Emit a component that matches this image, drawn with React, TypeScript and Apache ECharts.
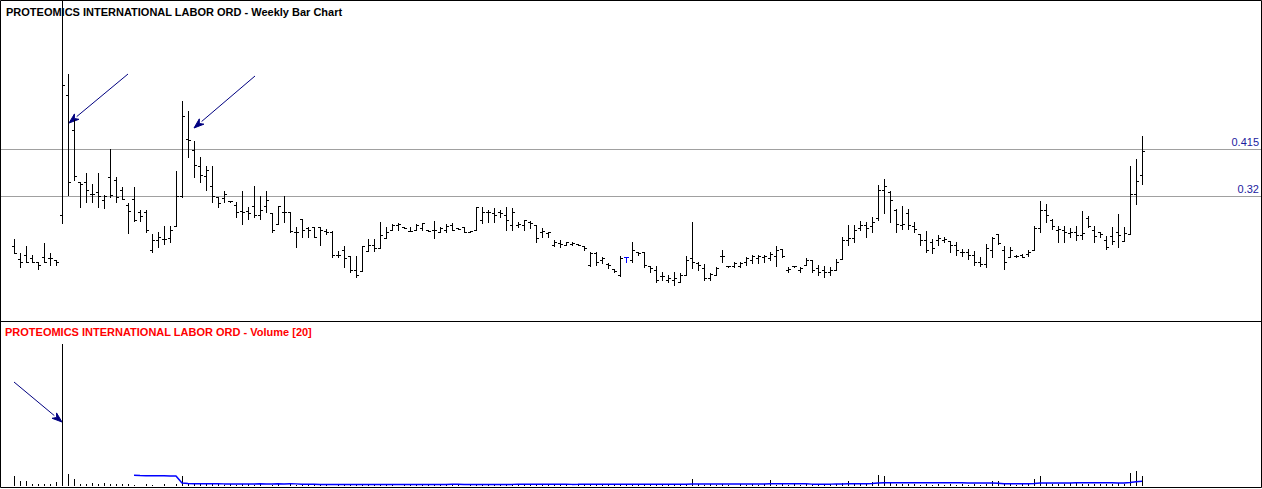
import React, { useEffect, useRef } from 'react';
import * as echarts from 'echarts';

// ---------- Data ----------
const priceTitle = 'PROTEOMICS INTERNATIONAL LABOR ORD - Weekly Bar Chart';
const volumeTitle = 'PROTEOMICS INTERNATIONAL LABOR ORD - Volume [20]';
const levels = [0.415, 0.32];
const highlightedBars = [102];
const MA_PERIOD = 20;

const opens = [
  0.220, 0.194, 0.202, 0.196, 0.188, 0.198, 0.196, 0.192, 0.282, 0.525,
  0.455, 0.349, 0.349, 0.325, 0.329, 0.312, 0.359, 0.353, 0.333, 0.302,
  0.315, 0.288, 0.288, 0.212, 0.232, 0.234, 0.236, 0.260, 0.321, 0.437,
  0.413, 0.381, 0.361, 0.341, 0.319, 0.317, 0.310, 0.302, 0.290, 0.290,
  0.300, 0.282, 0.300, 0.286, 0.264, 0.288, 0.288, 0.248, 0.274, 0.256,
  0.258, 0.258, 0.250, 0.248, 0.202, 0.212, 0.200, 0.172, 0.170, 0.210,
  0.222, 0.216, 0.236, 0.252, 0.262, 0.258, 0.250, 0.252, 0.256, 0.252,
  0.252, 0.248, 0.252, 0.262, 0.256, 0.258, 0.248, 0.252, 0.272, 0.288,
  0.286, 0.288, 0.282, 0.262, 0.262, 0.262, 0.268, 0.262, 0.248, 0.246,
  0.222, 0.226, 0.222, 0.224, 0.224, 0.220, 0.182, 0.206, 0.192, 0.184,
  0.174, 0.162, 0.198, 0.192, 0.208, 0.208, 0.180, 0.172, 0.160, 0.152,
  0.152, 0.148, 0.162, 0.196, 0.186, 0.176, 0.156, 0.162, 0.200, 0.180,
  0.180, 0.180, 0.188, 0.192, 0.196, 0.198, 0.196, 0.200, 0.214, 0.172,
  0.180, 0.172, 0.182, 0.192, 0.176, 0.172, 0.168, 0.172, 0.194, 0.232,
  0.236, 0.256, 0.262, 0.260, 0.276, 0.333, 0.329, 0.292, 0.262, 0.286,
  0.260, 0.244, 0.232, 0.228, 0.232, 0.232, 0.230, 0.222, 0.208, 0.208,
  0.202, 0.188, 0.184, 0.212, 0.244, 0.212, 0.198, 0.200, 0.202, 0.204,
  0.212, 0.256, 0.292, 0.272, 0.252, 0.252, 0.246, 0.248, 0.242, 0.276,
  0.252, 0.248, 0.232, 0.240, 0.248, 0.230, 0.244, 0.325, 0.363,
];

const highs = [
  0.234, 0.206, 0.220, 0.202, 0.188, 0.226, 0.206, 0.192, 0.800, 0.567,
  0.475, 0.349, 0.367, 0.345, 0.367, 0.323, 0.415, 0.359, 0.339, 0.306,
  0.339, 0.292, 0.292, 0.244, 0.248, 0.260, 0.260, 0.371, 0.513, 0.493,
  0.433, 0.399, 0.381, 0.381, 0.319, 0.331, 0.310, 0.308, 0.331, 0.298,
  0.341, 0.321, 0.331, 0.286, 0.300, 0.321, 0.288, 0.258, 0.274, 0.258,
  0.258, 0.258, 0.254, 0.250, 0.210, 0.220, 0.200, 0.200, 0.220, 0.234,
  0.234, 0.268, 0.258, 0.264, 0.266, 0.258, 0.258, 0.264, 0.266, 0.252,
  0.270, 0.258, 0.264, 0.266, 0.256, 0.258, 0.250, 0.298, 0.298, 0.292,
  0.296, 0.292, 0.298, 0.296, 0.268, 0.272, 0.270, 0.262, 0.256, 0.248,
  0.232, 0.232, 0.228, 0.228, 0.224, 0.220, 0.208, 0.208, 0.198, 0.186,
  0.174, 0.200, 0.198, 0.228, 0.208, 0.208, 0.180, 0.180, 0.168, 0.162,
  0.168, 0.166, 0.200, 0.268, 0.188, 0.184, 0.166, 0.178, 0.212, 0.180,
  0.188, 0.188, 0.198, 0.202, 0.202, 0.202, 0.208, 0.220, 0.214, 0.178,
  0.180, 0.178, 0.196, 0.192, 0.182, 0.180, 0.178, 0.194, 0.238, 0.262,
  0.262, 0.270, 0.268, 0.278, 0.343, 0.355, 0.331, 0.294, 0.300, 0.294,
  0.268, 0.244, 0.250, 0.234, 0.242, 0.238, 0.230, 0.228, 0.214, 0.214,
  0.210, 0.198, 0.224, 0.238, 0.244, 0.220, 0.218, 0.202, 0.204, 0.212,
  0.260, 0.310, 0.304, 0.274, 0.260, 0.260, 0.256, 0.260, 0.290, 0.280,
  0.260, 0.248, 0.240, 0.258, 0.284, 0.258, 0.381, 0.395, 0.443,
];

const lows = [
  0.206, 0.178, 0.188, 0.188, 0.174, 0.188, 0.182, 0.182, 0.266, 0.323,
  0.353, 0.298, 0.308, 0.308, 0.298, 0.296, 0.319, 0.308, 0.315, 0.246,
  0.270, 0.270, 0.248, 0.208, 0.218, 0.224, 0.228, 0.260, 0.319, 0.399,
  0.359, 0.349, 0.333, 0.308, 0.298, 0.308, 0.308, 0.278, 0.264, 0.274,
  0.278, 0.274, 0.288, 0.248, 0.264, 0.268, 0.248, 0.218, 0.238, 0.238,
  0.238, 0.222, 0.244, 0.198, 0.198, 0.178, 0.168, 0.158, 0.170, 0.210,
  0.210, 0.216, 0.236, 0.252, 0.252, 0.256, 0.250, 0.252, 0.252, 0.250,
  0.236, 0.248, 0.248, 0.252, 0.254, 0.248, 0.248, 0.252, 0.266, 0.268,
  0.268, 0.278, 0.252, 0.252, 0.258, 0.252, 0.256, 0.228, 0.238, 0.238,
  0.220, 0.218, 0.222, 0.222, 0.222, 0.212, 0.180, 0.182, 0.186, 0.176,
  0.168, 0.160, 0.188, 0.188, 0.202, 0.178, 0.168, 0.148, 0.152, 0.148,
  0.142, 0.148, 0.162, 0.176, 0.172, 0.152, 0.152, 0.162, 0.188, 0.178,
  0.178, 0.178, 0.182, 0.186, 0.186, 0.188, 0.192, 0.180, 0.198, 0.168,
  0.178, 0.168, 0.182, 0.168, 0.162, 0.158, 0.162, 0.172, 0.194, 0.222,
  0.228, 0.252, 0.238, 0.248, 0.272, 0.286, 0.268, 0.248, 0.254, 0.254,
  0.248, 0.222, 0.208, 0.206, 0.222, 0.228, 0.208, 0.202, 0.200, 0.194,
  0.182, 0.180, 0.178, 0.198, 0.224, 0.174, 0.198, 0.198, 0.198, 0.200,
  0.212, 0.248, 0.268, 0.254, 0.228, 0.228, 0.238, 0.232, 0.234, 0.258,
  0.228, 0.238, 0.214, 0.224, 0.218, 0.230, 0.244, 0.304, 0.345,
];

const closes = [
  0.206, 0.188, 0.188, 0.188, 0.182, 0.188, 0.196, 0.188, 0.545, 0.349,
  0.361, 0.345, 0.333, 0.325, 0.321, 0.321, 0.323, 0.319, 0.315, 0.290,
  0.272, 0.280, 0.252, 0.232, 0.238, 0.234, 0.252, 0.321, 0.483, 0.435,
  0.383, 0.363, 0.373, 0.321, 0.306, 0.325, 0.310, 0.288, 0.288, 0.286,
  0.282, 0.292, 0.312, 0.252, 0.300, 0.288, 0.250, 0.248, 0.252, 0.252,
  0.238, 0.252, 0.248, 0.202, 0.202, 0.196, 0.172, 0.162, 0.220, 0.222,
  0.216, 0.242, 0.248, 0.262, 0.264, 0.256, 0.250, 0.262, 0.266, 0.250,
  0.252, 0.256, 0.260, 0.252, 0.254, 0.248, 0.250, 0.298, 0.288, 0.288,
  0.282, 0.286, 0.272, 0.288, 0.264, 0.272, 0.266, 0.236, 0.250, 0.248,
  0.228, 0.224, 0.228, 0.226, 0.222, 0.216, 0.206, 0.188, 0.196, 0.182,
  0.170, 0.196, 0.198, 0.212, 0.206, 0.182, 0.176, 0.152, 0.160, 0.156,
  0.156, 0.162, 0.192, 0.188, 0.182, 0.156, 0.164, 0.176, 0.200, 0.180,
  0.186, 0.186, 0.196, 0.200, 0.200, 0.200, 0.204, 0.212, 0.200, 0.174,
  0.180, 0.176, 0.192, 0.172, 0.168, 0.168, 0.172, 0.188, 0.232, 0.236,
  0.252, 0.262, 0.256, 0.268, 0.333, 0.341, 0.312, 0.264, 0.264, 0.262,
  0.254, 0.232, 0.212, 0.216, 0.236, 0.234, 0.222, 0.212, 0.208, 0.202,
  0.188, 0.184, 0.216, 0.236, 0.226, 0.188, 0.212, 0.200, 0.198, 0.208,
  0.256, 0.292, 0.282, 0.260, 0.254, 0.248, 0.248, 0.242, 0.246, 0.260,
  0.240, 0.244, 0.218, 0.230, 0.242, 0.246, 0.325, 0.351, 0.411,
];

// volume in thousands of shares
const volumes = [
  100, 55, 55, 25, 25, 20, 20, 45, 1500, 120,
  70, 25, 20, 30, 20, 30, 20, 25, 20, 20,
  15, 0, 20, 15, 0, 20, 0, 25, 105, 25,
  20, 20, 20, 20, 20, 15, 20, 15, 20, 20,
  15, 20, 0, 15, 20, 0, 20, 15, 20, 15,
  20, 15, 20, 0, 15, 20, 20, 15, 20, 15,
  20, 15, 20, 15, 0, 20, 15, 20, 15, 20,
  15, 20, 15, 20, 15, 0, 20, 25, 20, 15,
  20, 15, 20, 15, 20, 15, 20, 20, 15, 20,
  15, 20, 15, 0, 20, 15, 20, 15, 20, 15,
  20, 15, 20, 15, 20, 15, 20, 15, 20, 15,
  20, 15, 20, 70, 20, 15, 20, 15, 20, 15,
  0, 20, 15, 20, 15, 20, 60, 15, 20, 15,
  20, 15, 20, 15, 20, 15, 20, 25, 30, 50,
  25, 20, 20, 45, 110, 100, 30, 25, 20, 25,
  20, 15, 20, 15, 20, 15, 20, 15, 20, 15,
  20, 15, 20, 55, 55, 25, 20, 15, 20, 20,
  75, 100, 30, 25, 25, 20, 30, 35, 25, 20,
  20, 25, 20, 25, 30, 20, 135, 150, 105,
];

// ---------- helpers ----------
function arrow(x1: number, y1: number, x2: number, y2: number, color: string) {
  const dx = x2 - x1;
  const dy = y2 - y1;
  const len = Math.sqrt(dx * dx + dy * dy);
  const ux = dx / len;
  const uy = dy / len;
  const px = -uy;
  const py = ux;
  const hl = 10;
  const hw = 3.5;
  const bx = x2 - ux * hl;
  const by = y2 - uy * hl;
  const nx = x2 - ux * (hl - 3);
  const ny = y2 - uy * (hl - 3);
  return [
    { type: 'line', silent: true, shape: { x1, y1, x2: bx, y2: by }, style: { stroke: color, lineWidth: 1 } },
    {
      type: 'polygon',
      silent: true,
      shape: { points: [[x2, y2], [bx + px * hw, by + py * hw], [nx, ny], [bx - px * hw, by - py * hw]] },
      style: { fill: color, stroke: color, lineWidth: 1 },
    },
  ];
}

export default function App() {
  const ref = useRef<HTMLDivElement>(null);

  useEffect(() => {
    const el = ref.current;
    if (!el) return;
    const chart = echarts.init(el, null, { renderer: 'svg' });

    const ohlc = closes.map((c, i) => [i, opens[i], highs[i], lows[i], c]);
    const vol = volumes.map((v, i) => [i, v]);
    const ma: number[][] = [];
    for (let i = MA_PERIOD; i < volumes.length; i++) {
      let s = 0;
      for (let k = i - MA_PERIOD + 1; k <= i; k++) s += volumes[k];
      ma.push([i, s / MA_PERIOD]);
    }

    const W = 1262;
    const xMin = -14 / 6;
    const xMax = (W - 14) / 6;

    const renderBar = (params: any, api: any) => {
      const i = api.value(0);
      const pO = api.coord([i, api.value(1)]);
      const pH = api.coord([i, api.value(2)]);
      const pL = api.coord([i, api.value(3)]);
      const pC = api.coord([i, api.value(4)]);
      const col = Math.round(pH[0]);
      const x = col + 0.5;
      const color = highlightedBars.indexOf(i) >= 0 ? '#0000ff' : '#000000';
      const yH = Math.round(pH[1]);
      const yL = Math.round(pL[1]);
      const yO = Math.round(pO[1]) + 0.5;
      const yC = Math.round(pC[1]) + 0.5;
      const st = { stroke: color, lineWidth: 1 };
      return {
        type: 'group',
        children: [
          { type: 'line', shape: { x1: x, y1: yH, x2: x, y2: yL + 1 }, style: st },
          { type: 'line', shape: { x1: col - 2, y1: yO, x2: col, y2: yO }, style: st },
          { type: 'line', shape: { x1: col + 1, y1: yC, x2: col + 3, y2: yC }, style: st },
        ],
      };
    };

    const renderVol = (params: any, api: any) => {
      const i = api.value(0);
      const v = api.value(1);
      if (!v) return { type: 'group', children: [] };
      const p0 = api.coord([i, 0]);
      const p1 = api.coord([i, v]);
      const x = Math.round(p0[0]) + 0.5;
      return {
        type: 'line',
        shape: { x1: x, y1: Math.round(p0[1]), x2: x, y2: Math.round(p1[1]) },
        style: { stroke: '#000000', lineWidth: 1 },
      };
    };

    chart.setOption({
      animation: false,
      grid: [
        { left: 0, top: 1, width: W, height: 320 },
        { left: 0, top: 344, width: W, height: 142 },
      ],
      xAxis: [
        { type: 'value', gridIndex: 0, min: xMin, max: xMax, show: false },
        { type: 'value', gridIndex: 1, min: xMin, max: xMax, show: false },
      ],
      yAxis: [
        { type: 'value', gridIndex: 0, min: 0.06835, max: 0.71516, show: false, splitLine: { show: false } },
        { type: 'value', gridIndex: 1, min: 0, max: 1420, show: false, splitLine: { show: false } },
      ],
      series: [
        {
          type: 'custom',
          xAxisIndex: 0,
          yAxisIndex: 0,
          clip: true,
          renderItem: renderBar,
          encode: { x: 0, y: [1, 2, 3, 4] },
          data: ohlc,
          z: 3,
        },
        {
          type: 'custom',
          xAxisIndex: 1,
          yAxisIndex: 1,
          clip: true,
          renderItem: renderVol,
          encode: { x: 0, y: 1 },
          data: vol,
        },
        {
          type: 'line',
          xAxisIndex: 1,
          yAxisIndex: 1,
          data: ma,
          showSymbol: false,
          symbol: 'none',
          lineStyle: { color: '#0000ff', width: 1.5 },
          silent: true,
        },
      ],
    });

    const levelGraphics: any[] = [];
    levels.forEach((v) => {
      const yRaw = chart.convertToPixel({ yAxisIndex: 0 }, v) as number;
      const y = Math.floor(yRaw) + 0.5;
      levelGraphics.push({
        type: 'line',
        silent: true,
        z: -1,
        shape: { x1: 0, y1: y, x2: W, y2: y },
        style: { stroke: '#a0a0a0', lineWidth: 1 },
      });
      levelGraphics.push({
        type: 'text',
        silent: true,
        x: 1259,
        y: y - 8,
        style: {
          text: String(v),
          fill: '#1c1ca0',
          font: '11px "Liberation Sans", Arial, sans-serif',
          align: 'right',
          verticalAlign: 'middle',
        },
      });
    });

    const navy = '#000080';
    chart.setOption({
      graphic: [
        ...levelGraphics,
        {
          type: 'text',
          silent: true,
          x: 6,
          y: 12,
          style: {
            text: priceTitle,
            fill: '#000000',
            font: 'bold 11px "Liberation Sans", Arial, sans-serif',
            verticalAlign: 'middle',
          },
        },
        {
          type: 'text',
          silent: true,
          x: 5,
          y: 332,
          style: {
            text: volumeTitle,
            fill: '#ff0000',
            font: 'bold 11px "Liberation Sans", Arial, sans-serif',
            verticalAlign: 'middle',
          },
        },
        ...arrow(128, 74, 69, 123, navy),
        ...arrow(255, 76, 194, 128, navy),
        ...arrow(14, 382, 62, 422, navy),
        {
          type: 'line',
          silent: true,
          shape: { x1: 0, y1: 321.5, x2: W, y2: 321.5 },
          style: { stroke: '#000000', lineWidth: 1 },
        },
        {
          type: 'rect',
          silent: true,
          shape: { x: 0.5, y: 0.5, width: W - 1, height: 487 },
          style: { fill: 'none', stroke: '#000000', lineWidth: 1 },
        },
      ],
    });

    return () => {
      chart.dispose();
    };
  }, []);

  return (
    <div
      ref={ref}
      style={{ position: 'fixed', left: 0, top: 0, width: 1262, height: 489, background: '#ffffff' }}
    />
  );
}
